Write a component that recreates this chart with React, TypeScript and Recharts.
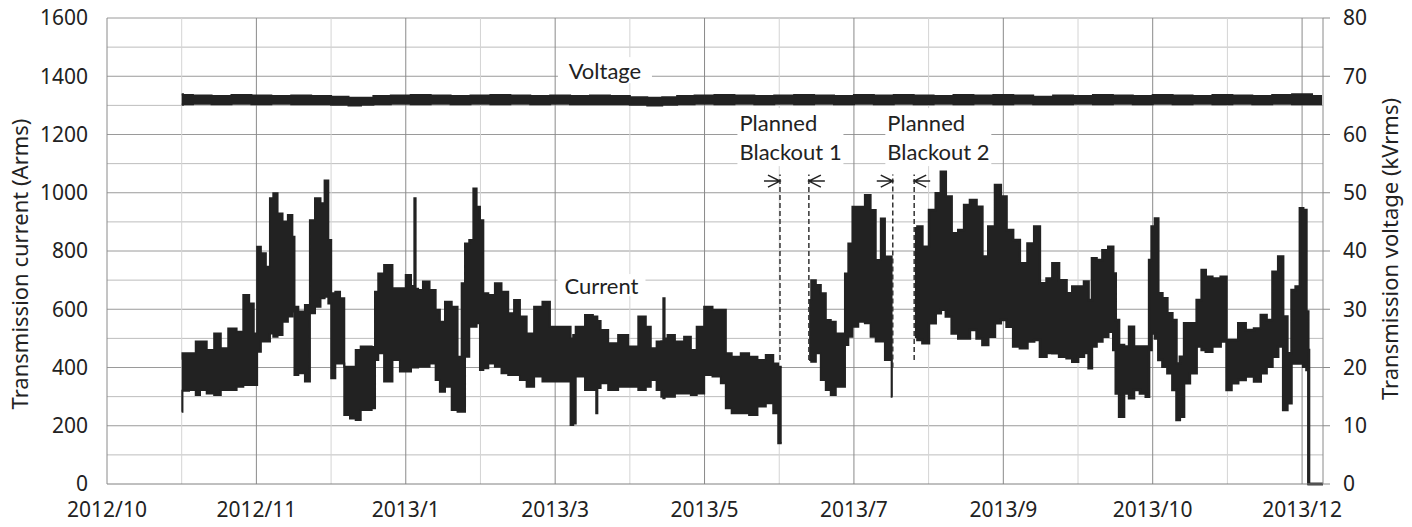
import React from 'react';
import {
  ComposedChart, Area, XAxis, YAxis, CartesianGrid, ReferenceLine, ReferenceDot,
} from 'recharts';

// x values are days from the left edge of the axis (one gridline = 30 days)
const X_TICKS = [0, 30, 60, 90, 120, 150, 180, 210, 240, 270, 300, 330, 360, 390, 420, 450, 480];
const X_LABELS = ['2012/10', '', '2012/11', '', '2013/1', '', '2013/3', '', '2013/5', '', '2013/7', '', '2013/9', '', '2013/10', '', '2013/12'];
const X_MAX = 488.4;
const LEFT_TICKS = [0, 200, 400, 600, 800, 1000, 1200, 1400, 1600];
const RIGHT_TICKS = [0, 10, 20, 30, 40, 50, 60, 70, 80];
const H_MINOR = [100, 300, 500, 700, 900, 1100, 1300, 1500];
const H_MAJOR = [200, 400, 600, 800, 1000, 1200, 1400, 1600];
const V_LIGHT = [30, 90, 150, 210, 270, 330, 390, 450];
const V_DARK = [60, 120, 180, 240, 300, 360, 420, 480];

// Transmission current (Arms): [day, low, high] envelope of the daily swing
const current1: number[][] = [
  [30.0, 248, 430], [30.6, 320, 449], [35.3, 323, 449], [36.0, 306, 489], [38.7, 323, 489],
  [41.4, 311, 460], [44.7, 306, 517], [46.7, 323, 466], [50.7, 323, 534], [53.4, 334, 523],
  [56.1, 340, 649], [58.1, 340, 620], [59.8, 340, 517], [60.8, 454, 815], [62.8, 489, 792],
  [64.8, 489, 746], [66.1, 517, 981], [67.5, 506, 998], [69.5, 512, 929], [71.5, 557, 901],
  [73.8, 575, 924], [75.1, 592, 849], [75.5, 374, 609], [78.2, 380, 592], [80.8, 352, 615],
  [82.2, 586, 906], [84.9, 609, 981], [86.6, 638, 964], [88.2, 643, 1042], [89.6, 620, 838],
  [90.5, 363, 655], [92.9, 414, 660], [94.3, 414, 638], [96.3, 237, 403], [98.9, 225, 403],
  [100.9, 220, 460], [102.9, 254, 472], [105.6, 254, 472], [107.0, 260, 470], [108.3, 426, 660],
  [109.6, 449, 723], [113.0, 352, 752], [116.3, 426, 672], [119.0, 386, 672], [121.0, 386, 718],
  [123.2, 400, 680], [123.7, 403, 981], [124.2, 400, 670], [125.7, 403, 666], [128.1, 403, 695],
  [131.0, 414, 666], [133.0, 357, 598], [134.4, 317, 557], [137.1, 334, 626], [139.8, 254, 609],
  [141.8, 248, 437], [143.1, 248, 689], [144.5, 437, 826], [146.5, 540, 838], [147.8, 540, 1015],
  [149.1, 552, 952], [150.5, 391, 906], [151.8, 397, 655], [154.5, 414, 649], [157.1, 403, 689],
  [159.8, 380, 660], [162.5, 374, 586], [164.5, 374, 632], [167.2, 357, 575], [169.9, 334, 517],
  [173.2, 369, 609], [176.6, 352, 626], [179.2, 352, 540], [181.9, 352, 540], [185.8, 352, 540],
  [186.6, 203, 500], [187.9, 208, 512], [188.6, 369, 540], [190.0, 369, 540], [194.0, 323, 580],
  [196.3, 323, 575], [196.7, 243, 575], [197.2, 330, 560], [199.3, 346, 529], [203.3, 323, 483],
  [207.3, 334, 512], [211.4, 334, 472], [215.4, 323, 575], [217.4, 334, 540], [219.4, 357, 466],
  [222.1, 323, 489], [223.2, 300, 490], [223.7, 294, 638], [224.2, 300, 500], [226.1, 300, 512],
  [230.1, 311, 489], [233.5, 311, 506], [235.5, 306, 460], [238.2, 311, 540], [241.5, 374, 609],
  [244.9, 369, 598], [248.2, 346, 598], [248.9, 260, 449], [252.9, 243, 437], [256.2, 243, 449],
  [259.6, 237, 437], [262.9, 266, 426], [266.3, 277, 443], [268.9, 243, 414], [270.3, 140, 403],
  [271.0, 140, 403],
];
const current2: number[][] = [
  [282.0, 426, 632], [283.7, 420, 700], [285.7, 449, 683], [287.7, 357, 655], [289.7, 323, 563],
  [291.7, 306, 557], [293.7, 334, 517], [295.7, 334, 517], [297.1, 477, 723], [298.4, 506, 826],
  [300.4, 540, 952], [303.1, 557, 952], [305.7, 552, 992], [307.7, 506, 941], [309.8, 489, 769],
  [311.8, 489, 912], [313.1, 426, 781], [314.8, 426, 781], [315.5, 300, 769],
];
const current3: number[][] = [
  [324.5, 506, 878], [326.5, 494, 884], [328.5, 483, 815], [331.8, 552, 941], [333.9, 586, 998],
  [335.9, 598, 1072], [337.9, 575, 987], [340.6, 517, 861], [343.2, 500, 872], [345.3, 500, 958],
  [347.9, 529, 975], [350.6, 500, 952], [352.6, 477, 781], [355.3, 506, 884], [358.0, 552, 1027],
  [360.0, 563, 987], [362.6, 540, 872], [365.3, 472, 838], [368.0, 466, 758], [371.4, 489, 826],
  [373.4, 494, 884], [376.0, 437, 689], [378.7, 450, 706], [380.7, 449, 758], [384.1, 437, 700],
  [386.7, 432, 655], [388.7, 420, 678], [391.4, 437, 678], [393.4, 450, 695], [395.1, 397, 632],
  [396.1, 472, 775], [398.8, 489, 769], [400.8, 506, 803], [403.5, 523, 815], [404.8, 460, 723],
  [405.5, 311, 563], [407.5, 231, 477], [409.5, 311, 472], [411.5, 294, 540], [413.5, 323, 472],
  [416.2, 311, 472], [418.2, 300, 472], [418.9, 460, 769], [420.2, 517, 884], [421.6, 500, 912],
  [422.9, 426, 655], [424.9, 403, 638], [426.9, 380, 586], [428.9, 323, 563], [430.2, 220, 414],
  [431.6, 231, 437], [433.6, 346, 552], [436.3, 380, 552], [439.0, 472, 632], [440.3, 460, 735],
  [442.3, 454, 712], [445.6, 472, 706], [449.0, 489, 712], [450.3, 323, 494], [453.0, 346, 494],
  [455.7, 357, 552], [459.0, 369, 529], [462.4, 352, 534], [464.4, 380, 580], [467.1, 403, 563],
  [469.1, 437, 729], [471.7, 472, 781], [473.1, 254, 575], [475.1, 277, 449], [476.4, 414, 666],
  [478.4, 414, 678], [479.8, 414, 947], [481.1, 403, 941], [482.4, 391, 592], [482.6, 0, 460],
  [483.0, 0, 0], [488.4, 0, 0],
];

// Transmission voltage (kVrms): [day, low, high]
const voltage: number[][] = [
  [30, 65.1, 66.9], [31, 65.2, 66.8], [38, 65.3, 66.7], [46, 65.2, 66.6], [54, 65.3, 66.8],
  [62, 65.2, 66.7], [70, 65.3, 66.6], [78, 65.2, 66.7], [86, 65.2, 66.6], [94, 65.1, 66.5],
  [100, 65.0, 66.3], [104, 65.1, 66.3], [110, 65.2, 66.6], [118, 65.3, 66.7], [126, 65.2, 66.8],
  [134, 65.3, 66.7], [142, 65.2, 66.6], [150, 65.3, 66.7], [158, 65.2, 66.8], [166, 65.3, 66.7],
  [174, 65.2, 66.6], [182, 65.3, 66.7], [190, 65.2, 66.6], [198, 65.2, 66.7], [206, 65.2, 66.6],
  [214, 65.1, 66.4], [220, 65.0, 66.3], [226, 65.1, 66.4], [232, 65.2, 66.6], [240, 65.3, 66.7],
  [248, 65.2, 66.8], [256, 65.3, 66.7], [264, 65.2, 66.6], [272, 65.3, 66.7], [280, 65.2, 66.8],
  [288, 65.3, 66.7], [296, 65.2, 66.6], [304, 65.3, 66.8], [312, 65.2, 66.7], [320, 65.3, 66.8],
  [328, 65.2, 66.7], [336, 65.3, 66.6], [344, 65.2, 66.8], [352, 65.3, 66.7], [360, 65.2, 66.8],
  [368, 65.3, 66.7], [376, 65.2, 66.5], [384, 65.2, 66.7], [392, 65.3, 66.6], [400, 65.2, 66.8],
  [408, 65.3, 66.7], [416, 65.2, 66.6], [424, 65.3, 66.8], [432, 65.2, 66.7], [440, 65.3, 66.6],
  [448, 65.2, 66.8], [456, 65.3, 66.7], [464, 65.2, 66.6], [472, 65.3, 66.8], [480, 65.2, 66.9],
  [488, 65.2, 66.6],
];

// annotation positions (data coordinates)
const BLACKOUT_LINES = [
  { day: 270.3, dir: 'right', bottom: 426 },
  { day: 281.9, dir: 'left', bottom: 426 },
  { day: 315.6, dir: 'right', bottom: 400 },
  { day: 324.2, dir: 'left', bottom: 426 },
];
const ARROW_LEVEL = 1040;
const LINE_TOP = 1063;

type Row = { day: number; c1?: number[]; c2?: number[]; c3?: number[]; v?: number[] };

function buildRows(): Row[] {
  const map = new Map<number, Row>();
  const put = (arr: number[][], key: 'c1' | 'c2' | 'c3' | 'v') => {
    arr.forEach(([d, lo, hi]) => {
      const r = map.get(d) || { day: d };
      r[key] = [lo, hi];
      map.set(d, r);
    });
  };
  put(current1, 'c1');
  put(current2, 'c2');
  put(current3, 'c3');
  put(voltage, 'v');
  return Array.from(map.values()).sort((a, b) => a.day - b.day);
}

const rows = buildRows();

const TICK_FONT = { fontSize: 21, fontFamily: 'Noto Sans', fill: '#222' };
const NOTE_FONT = 'Lato';

function TextBox(props: any) {
  const { cx, cy, lines, w, h, align } = props;
  if (cx == null || cy == null) return null;
  const lh = 29;
  const n = lines.length;
  return (
    <g>
      <rect x={cx - w / 2} y={cy - h / 2} width={w} height={h} fill="#fff" />
      {lines.map((t: string, i: number) => (
        <text
          key={i}
          x={align === 'start' ? cx - w / 2 + 2 : cx}
          y={cy + (i - (n - 1) / 2) * lh}
          textAnchor={align === 'start' ? 'start' : 'middle'}
          dominantBaseline="central"
          fontFamily={NOTE_FONT}
          fontSize={22}
          fill="#222"
        >
          {t}
        </text>
      ))}
    </g>
  );
}

function Arrow(props: any) {
  const { cx, cy, dir } = props;
  if (cx == null || cy == null) return null;
  const s = dir === 'right' ? -1 : 1;
  const d = `M${cx + s * 16},${cy} L${cx},${cy} M${cx + s * 12},${cy - 6} L${cx},${cy} L${cx + s * 12},${cy + 6}`;
  return <path d={d} stroke="#222" strokeWidth={1.5} fill="none" />;
}

function LeftTitle(props: any) {
  const vb = props.viewBox || {};
  const x = (vb.x ?? 0) + 19;
  const y = (vb.y ?? 18) + (vb.height ?? 466) / 2 + 13;
  return (
    <text transform={`translate(${x},${y}) rotate(-90)`} textAnchor="middle" dominantBaseline="central"
      fontFamily="Noto Sans" fontSize={22} fill="#222">Transmission current (Arms)</text>
  );
}

function RightTitle(props: any) {
  const vb = props.viewBox || {};
  const x = (vb.x ?? 1323) + 66;
  const y = (vb.y ?? 18) + (vb.height ?? 466) / 2 - 2;
  return (
    <text transform={`translate(${x},${y}) rotate(-90)`} textAnchor="middle" dominantBaseline="central"
      fontFamily="Noto Sans" fontSize={22} fill="#222">Transmission voltage (kVrms)</text>
  );
}

export default function App() {
  return (
    <div style={{ position: 'absolute', left: 0, top: 0, width: 1412, height: 527, background: '#fff' }}>
      <ComposedChart width={1412} height={527} data={rows} margin={{ top: 18, right: 0, bottom: 0, left: 0 }}>
        <CartesianGrid horizontal horizontalValues={H_MINOR} vertical={false} stroke="#bdbdbd" strokeWidth={1} />
        <CartesianGrid horizontal horizontalValues={H_MAJOR} vertical={false} stroke="#9a9a9a" strokeWidth={1} />
        <CartesianGrid horizontal={false} vertical verticalValues={V_LIGHT} stroke="#d4d4d4" strokeWidth={1} />
        <CartesianGrid horizontal={false} vertical verticalValues={V_DARK} stroke="#8a8a8a" strokeWidth={1} />
        <XAxis
          dataKey="day" type="number" domain={[0, X_MAX]} ticks={X_TICKS} interval={0}
          tickFormatter={(v: number) => X_LABELS[X_TICKS.indexOf(v)] ?? ''}
          tick={TICK_FONT} tickLine={false} tickSize={0} tickMargin={18} height={43}
          axisLine={{ stroke: '#808080' }}
        />
        <YAxis
          type="number" domain={[0, 1600]} ticks={LEFT_TICKS} interval={0} width={107}
          tick={TICK_FONT} tickLine={false} tickSize={0} tickMargin={19}
          axisLine={{ stroke: '#8a8a8a' }} label={<LeftTitle />}
        />
        <YAxis
          yAxisId="right" orientation="right" type="number" domain={[0, 80]} ticks={RIGHT_TICKS} interval={0}
          width={89} tick={TICK_FONT} tickLine={{ stroke: '#8a8a8a' }} tickSize={7} tickMargin={13}
          axisLine={{ stroke: '#8a8a8a' }} label={<RightTitle />}
        />
        <Area yAxisId="right" dataKey="v" type="step" stroke="#222" strokeWidth={2} fill="#222" fillOpacity={1}
          connectNulls isAnimationActive={false} dot={false} activeDot={false} />
        <Area dataKey="c1" type="step" stroke="#222" strokeWidth={2} fill="#222" fillOpacity={1}
          connectNulls isAnimationActive={false} dot={false} activeDot={false} />
        <Area dataKey="c2" type="step" stroke="#222" strokeWidth={2} fill="#222" fillOpacity={1}
          connectNulls isAnimationActive={false} dot={false} activeDot={false} />
        <Area dataKey="c3" type="step" stroke="#222" strokeWidth={2.5} fill="#222" fillOpacity={1}
          connectNulls isAnimationActive={false} dot={false} activeDot={false} />
        {BLACKOUT_LINES.map((b, i) => (
          <ReferenceLine key={`bl${i}`} segment={[{ x: b.day, y: b.bottom }, { x: b.day, y: LINE_TOP }]}
            stroke="#333" strokeWidth={1.5} strokeDasharray="5 3" ifOverflow="visible" />
        ))}
        {BLACKOUT_LINES.map((b, i) => (
          <ReferenceDot key={`ar${i}`} x={b.day} y={ARROW_LEVEL} r={0} ifOverflow="visible"
            shape={(p: any) => <Arrow {...p} dir={b.dir} />} />
        ))}
        <ReferenceDot x={200} y={1421} r={0} ifOverflow="visible"
          shape={(p: any) => <TextBox {...p} lines={['Voltage']} w={94} h={26} />} />
        <ReferenceDot x={198.6} y={683} r={0} ifOverflow="visible"
          shape={(p: any) => <TextBox {...p} lines={['Current']} w={88} h={22} />} />
        <ReferenceDot x={274.5} y={1191} r={0} ifOverflow="visible"
          shape={(p: any) => <TextBox {...p} lines={['Planned', 'Blackout 1']} w={106} h={58} align="start" />} />
        <ReferenceDot x={333.9} y={1191} r={0} ifOverflow="visible"
          shape={(p: any) => <TextBox {...p} lines={['Planned', 'Blackout 2']} w={106} h={58} align="start" />} />
      </ComposedChart>
    </div>
  );
}
